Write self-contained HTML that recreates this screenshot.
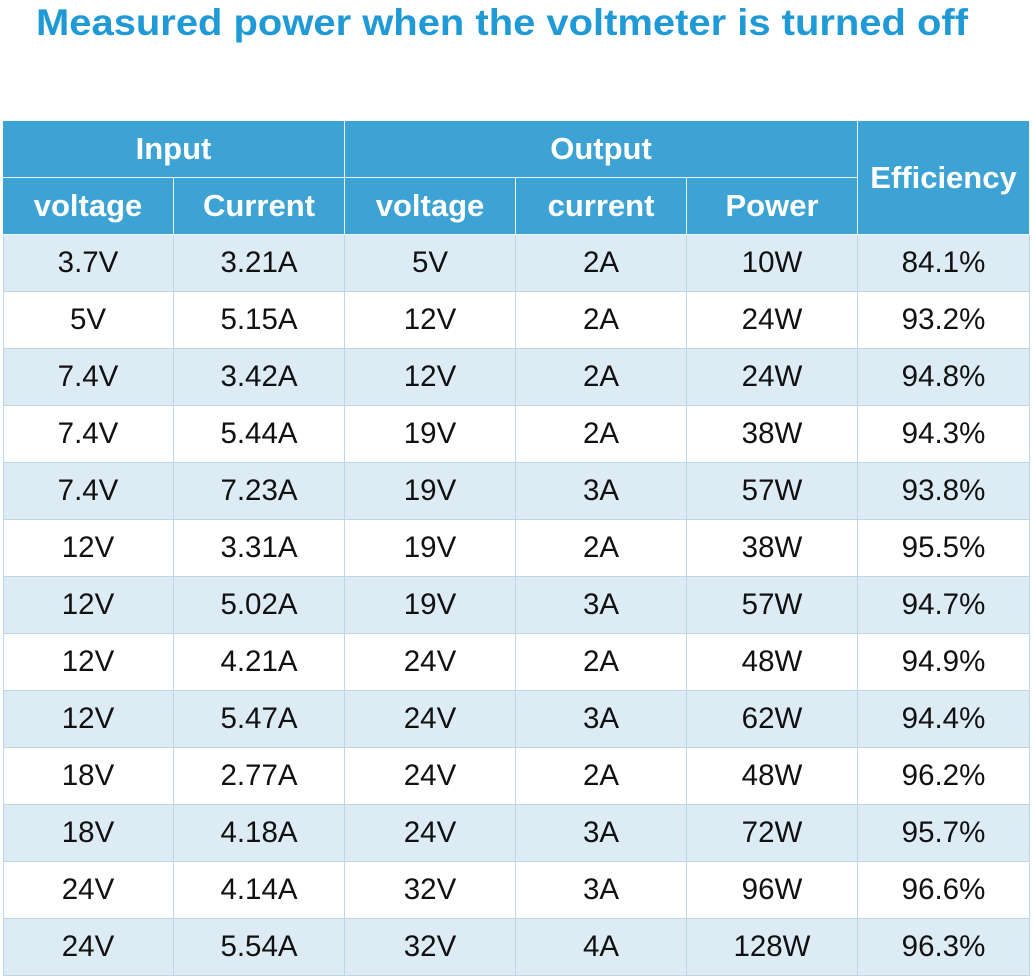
<!DOCTYPE html>
<html><head><meta charset="utf-8"><style>
body{margin:0;width:1034px;height:979px;background:#fff;position:relative;overflow:hidden;font-family:"Liberation Sans",sans-serif}
.c{position:absolute;display:flex;align-items:center;justify-content:center;box-sizing:border-box}
.h{background:#3ca3d4;color:#fff;font-weight:bold;font-size:31px;border-right:1px solid #e8f3fa;border-bottom:1px solid #e8f3fa}
.d{font-size:29.5px;color:#111;border-right:1px solid #bcd6e6;border-bottom:1px solid #bcd6e6}
</style></head><body>
<svg style="position:absolute;left:0;top:0" width="1034" height="60"><text x="36" y="35" textLength="932" lengthAdjust="spacingAndGlyphs" font-family="Liberation Sans" font-weight="bold" font-size="37" fill="#1f9ad6">Measured power when the voltmeter is turned off</text></svg>
<div id="t"></div>
<script>
var xs=[3,174,345,516,687,858,1030];
var H='';
function cell(cls,x1,x2,y1,y2,txt,bg){H+='<div class="c '+cls+'" style="left:'+x1+'px;width:'+(x2-x1)+'px;top:'+y1+'px;height:'+(y2-y1)+'px;'+(bg?'background:'+bg:'')+'">'+txt+'</div>';}
cell('h',3,345,121,178,'Input');cell('h',345,858,121,178,'Output');cell('h',858,1030,121,235,'Efficiency');
var h2=['voltage','Current','voltage','current','Power'];
for(var i=0;i<5;i++)cell('h',xs[i],xs[i+1],178,235,h2[i]);
var rows=[["3.7V","3.21A","5V","2A","10W","84.1%"],["5V","5.15A","12V","2A","24W","93.2%"],["7.4V","3.42A","12V","2A","24W","94.8%"],["7.4V","5.44A","19V","2A","38W","94.3%"],["7.4V","7.23A","19V","3A","57W","93.8%"],["12V","3.31A","19V","2A","38W","95.5%"],["12V","5.02A","19V","3A","57W","94.7%"],["12V","4.21A","24V","2A","48W","94.9%"],["12V","5.47A","24V","3A","62W","94.4%"],["18V","2.77A","24V","2A","48W","96.2%"],["18V","4.18A","24V","3A","72W","95.7%"],["24V","4.14A","32V","3A","96W","96.6%"],["24V","5.54A","32V","4A","128W","96.3%"]];
rows.forEach(function(r,j){var y=235+j*57;for(var i=0;i<6;i++)cell('d',xs[i],xs[i+1],y,y+57,r[i],j%2==0?'#ddebf5':'#fff');});
H+='<div style="position:absolute;left:3px;top:235px;width:1px;height:741px;background:#bcd6e6"></div>';
document.getElementById('t').innerHTML=H;
</script>
</body></html>
